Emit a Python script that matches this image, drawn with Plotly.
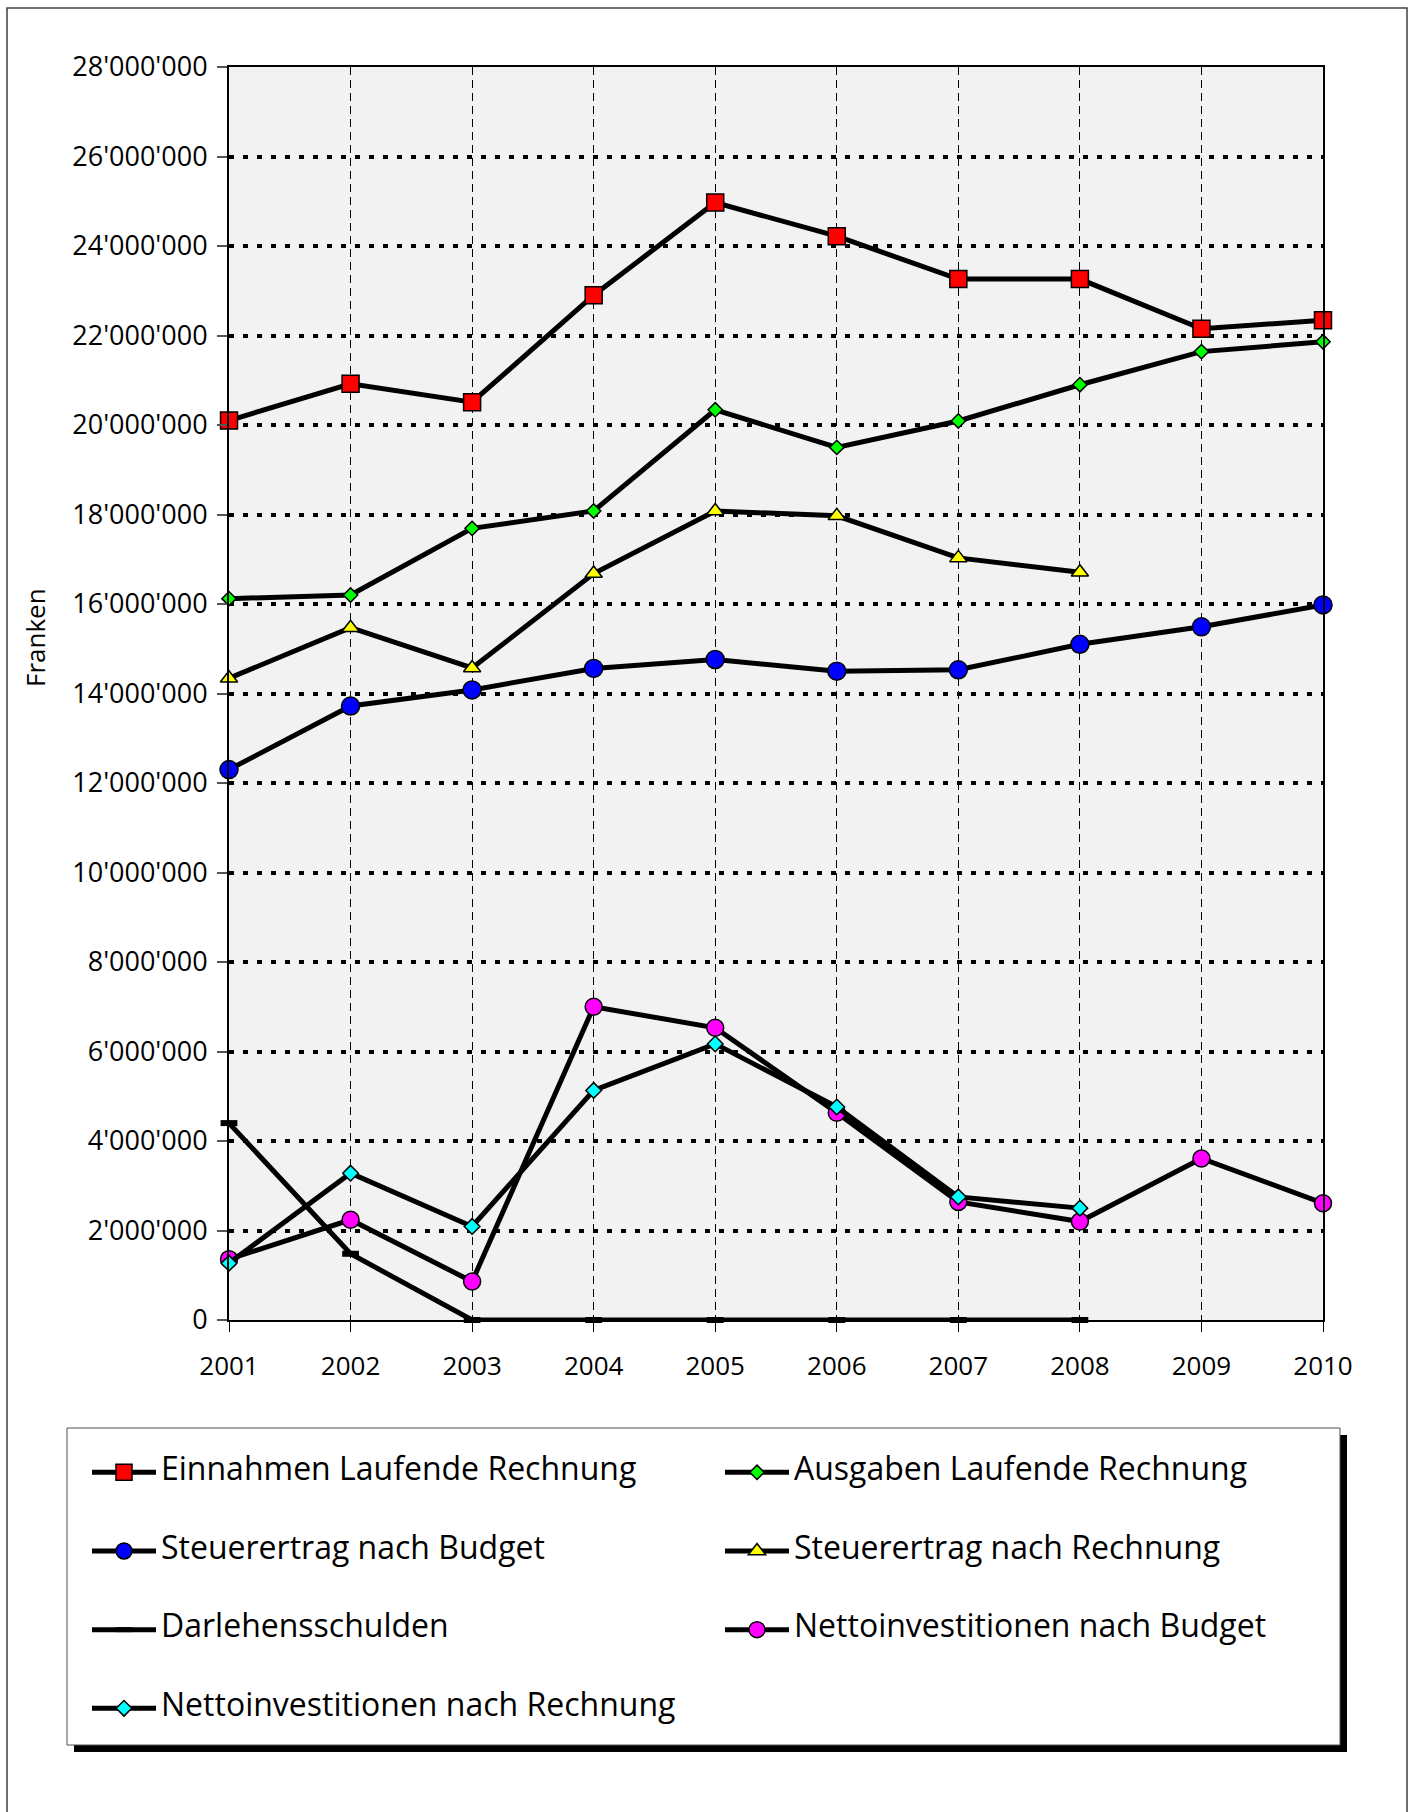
import plotly.graph_objects as go

# ---------------- data ----------------
years = [2001, 2002, 2003, 2004, 2005, 2006, 2007, 2008, 2009, 2010]

einnahmen_lr = [20100000, 20920000, 20510000, 22900000, 24970000, 24220000, 23260000, 23260000, 22150000, 22340000]
ausgaben_lr = [16120000, 16200000, 17690000, 18080000, 20340000, 19500000, 20090000, 20900000, 21640000, 21860000]
steuer_budget = [12300000, 13720000, 14080000, 14560000, 14760000, 14500000, 14530000, 15100000, 15490000, 15980000]
steuer_rechnung = [14340000, 15470000, 14570000, 16680000, 18080000, 17970000, 17030000, 16710000, None, None]
darlehensschulden = [4400000, 1480000, 0, 0, 0, 0, 0, 0, None, None]
netto_budget = [1360000, 2240000, 860000, 7000000, 6530000, 4630000, 2640000, 2200000, 3610000, 2610000]
netto_rechnung = [1270000, 3280000, 2090000, 5130000, 6170000, 4760000, 2750000, 2500000, None, None]

series_names = [
    "Einnahmen Laufende Rechnung",
    "Ausgaben Laufende Rechnung",
    "Steuerertrag nach Budget",
    "Steuerertrag nach Rechnung",
    "Darlehensschulden",
    "Nettoinvestitionen nach Budget",
    "Nettoinvestitionen nach Rechnung",
]
series_values = [einnahmen_lr, ausgaben_lr, steuer_budget, steuer_rechnung,
                 darlehensschulden, netto_budget, netto_rechnung]

y_tick_values = [0, 2000000, 4000000, 6000000, 8000000, 10000000, 12000000, 14000000,
                 16000000, 18000000, 20000000, 22000000, 24000000, 26000000, 28000000]
y_tick_labels = ["0", "2'000'000", "4'000'000", "6'000'000", "8'000'000", "10'000'000",
                 "12'000'000", "14'000'000", "16'000'000", "18'000'000", "20'000'000",
                 "22'000'000", "24'000'000", "26'000'000", "28'000'000"]
x_tick_labels = ["2001", "2002", "2003", "2004", "2005", "2006", "2007", "2008", "2009", "2010"]
y_title = "Franken"

# ---------------- styles ----------------
styles = [
    dict(symbol="square", color="#ff0000", size=17),
    dict(symbol="diamond", color="#00ff00", size=11),
    dict(symbol="circle", color="#0000ff", size=18),
    dict(symbol="triangle-up", color="#ffff00", size=15),
    dict(symbol="line-ew", color="#000000", size=12),
    dict(symbol="circle", color="#ff00ff", size=17),
    dict(symbol="diamond", color="#00ffff", size=12),
]

FONT = "Open Sans, Liberation Sans, Arial, sans-serif"
W_FIG, H_FIG = 1417, 1812
ML, MR, MT, MB = 229, 94, 67, 492
PW = W_FIG - ML - MR
PH = H_FIG - MT - MB


def px_x(px):
    return (px - ML) / PW


def px_y(py):
    return (H_FIG - MB - py) / PH


fig = go.Figure()
for name, vals, st in zip(series_names, series_values, styles):
    if st["symbol"] == "line-ew":
        marker = dict(symbol="line-ew", size=st["size"], color="#000000",
                      line=dict(color="#000000", width=6))
    else:
        marker = dict(symbol=st["symbol"], size=st["size"], color=st["color"],
                      line=dict(color="#000000", width=1.5))
    fig.add_trace(go.Scatter(
        x=years, y=vals, mode="lines+markers",
        name="<br><span style='font-size:32px'>" + name + "</span><br>",
        line=dict(color="#000000", width=5),
        marker=marker,
        connectgaps=False,
        cliponaxis=False,
    ))

shapes = [
    # outer frame
    dict(type="rect", xref="paper", yref="paper",
         x0=px_x(7), x1=px_x(1407), y0=px_y(1840), y1=px_y(8),
         line=dict(color="#404040", width=1.5), fillcolor="rgba(0,0,0,0)", layer="above"),
    # legend shadow
    dict(type="rect", xref="paper", yref="paper",
         x0=px_x(74), x1=px_x(1347), y0=px_y(1752), y1=px_y(1435),
         line=dict(width=0), fillcolor="#000000", layer="above"),
    # legend box
    dict(type="rect", xref="paper", yref="paper",
         x0=px_x(67), x1=px_x(1340), y0=px_y(1745), y1=px_y(1428),
         line=dict(color="#505050", width=1), fillcolor="#ffffff", layer="above"),
]

fig.update_layout(
    width=W_FIG, height=H_FIG,
    margin=dict(l=ML, r=MR, t=MT, b=MB, autoexpand=False),
    paper_bgcolor="#ffffff",
    plot_bgcolor="#f2f2f2",
    font=dict(family=FONT, size=26, color="#000000"),
    showlegend=True,
    legend=dict(
        orientation="h",
        x=px_x(87), y=px_y(1428), xanchor="left", yanchor="top",
        entrywidth=554, entrywidthmode="pixels",
        itemwidth=64,
        font=dict(family=FONT, size=19.4, color="#000000"),
        bgcolor="rgba(0,0,0,0)", borderwidth=0,
        traceorder="normal",
    ),
    shapes=shapes,
    annotations=[dict(
        text=y_title, xref="paper", yref="paper",
        x=px_x(35), y=px_y(638), showarrow=False, textangle=-90,
        xanchor="center", yanchor="middle",
        font=dict(family=FONT, size=26, color="#000000"),
    )],
)

fig.update_xaxes(
    range=[years[0], years[-1]],
    tickmode="array", tickvals=years, ticktext=x_tick_labels,
    showgrid=True, gridcolor="#000000", gridwidth=1, griddash="8px,5px",
    showline=True, linecolor="#000000", linewidth=2, mirror=True,
    ticks="outside", ticklen=10, tickwidth=1, tickcolor="#000000",
    ticklabelstandoff=12,
    tickfont=dict(family=FONT, size=26, color="#000000"),
    zeroline=False, fixedrange=True,
)
fig.update_yaxes(
    range=[0, 28000000],
    tickmode="array", tickvals=y_tick_values, ticktext=y_tick_labels,
    showgrid=True, gridcolor="#000000", gridwidth=4, griddash="5px,9px",
    showline=True, linecolor="#000000", linewidth=2, mirror=True,
    ticks="outside", ticklen=10, tickwidth=1.5, tickcolor="#555555",
    ticklabelstandoff=4,
    tickfont=dict(family=FONT, size=27, color="#000000"),
    zeroline=False, fixedrange=True,
)

fig.write_html("out.html", config={"displayModeBar": False},
               post_script="document.body.style.margin='0px';")
